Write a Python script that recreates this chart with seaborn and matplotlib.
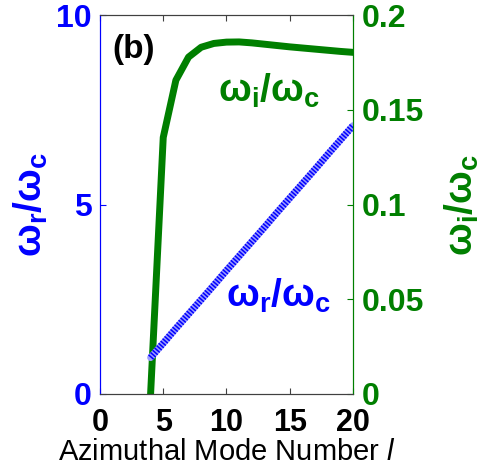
import matplotlib
matplotlib.use("Agg")
import matplotlib.pyplot as plt
import seaborn as sns
import pandas as pd

# Azimuthal mode numbers and the normalised real / imaginary frequencies
mode_l = [4, 5, 6, 7, 8, 9, 10, 11, 12, 13, 14, 15, 16, 17, 18, 19, 20]
omega_r = [0.96, 1.34, 1.73, 2.11, 2.49, 2.87, 3.26, 3.64, 4.02, 4.40,
           4.79, 5.17, 5.55, 5.93, 6.32, 6.70, 7.08]
omega_i = [0.0, 0.1354, 0.1656, 0.1778, 0.1830, 0.1850, 0.1857, 0.1858,
           0.1853, 0.1846, 0.1839, 0.1832, 0.1826, 0.1820, 0.1814, 0.1808, 0.1803]

x_ticks = [0, 5, 10, 15, 20]
left_ticks = [0, 5, 10]
right_ticks = [0, 0.05, 0.1, 0.15, 0.2]
right_labels = ["0", "0.05", "0.1", "0.15", "0.2"]

BLUE = "#0000ff"
GREEN = "#007f00"

sns.set_style("white")
plt.rcParams["font.family"] = ["Liberation Sans", "DejaVu Sans"]
plt.rcParams["mathtext.fontset"] = "custom"
plt.rcParams["mathtext.rm"] = "Liberation Sans"
plt.rcParams["mathtext.it"] = "Liberation Sans:italic"
plt.rcParams["mathtext.bf"] = "Liberation Sans:bold"

df = pd.DataFrame({"l": mode_l, "wr": omega_r, "wi": omega_i})

fig = plt.figure(figsize=(4.84, 4.65), dpi=100)
ax = fig.add_axes([0.2066, 0.1527, 0.5227, 0.8150])
ax2 = ax.twinx()

# real part: striped thick blue line
sns.lineplot(data=df, x="l", y="wr", ax=ax, color="#9a9aff", linewidth=5, legend=False)
sns.lineplot(data=df, x="l", y="wr", ax=ax, color=BLUE, linewidth=5,
             linestyle=(0, (0.22, 0.22)), legend=False)
# growth rate: solid green line
sns.lineplot(data=df, x="l", y="wi", ax=ax2, color=GREEN, linewidth=5, legend=False)

ax.set_xlim(0, 20)
ax.set_ylim(0, 10)
ax2.set_ylim(0, 0.2)

ax.set_xticks(x_ticks)
ax.set_xticklabels([str(t) for t in x_ticks], fontsize=22, fontweight="bold")
ax.set_yticks(left_ticks)
ax.set_yticklabels([str(t) for t in left_ticks], fontsize=23, fontweight="bold", color=BLUE)
ax2.set_yticks(right_ticks)
ax2.set_yticklabels(right_labels, fontsize=23, fontweight="bold", color=GREEN)

ax.tick_params(axis="x", direction="in", length=4, width=0.8, top=True, bottom=True,
               pad=10, colors="#404040", labelcolor="black")
ax.tick_params(axis="y", direction="in", length=4, width=0.8, colors=BLUE, pad=6)
ax2.tick_params(axis="y", direction="in", length=4, width=0.8, colors=GREEN, pad=6)
ax2.tick_params(axis="x", top=False)

for a in (ax, ax2):
    a.spines["top"].set_color("#404040")
    a.spines["bottom"].set_color("#404040")
    a.spines["left"].set_color(BLUE)
    a.spines["right"].set_color(GREEN)
    for s in a.spines.values():
        s.set_linewidth(0.8)

ax.set_xlabel(r"Azimuthal Mode Number $\mathit{l}$", fontsize=21, labelpad=0,
              color="black")
ax.set_ylabel(r"$\mathbf{\omega_r/\omega_c}$", fontsize=28, color=BLUE, labelpad=4)
ax2.set_ylabel(r"$\mathbf{\omega_i/\omega_c}$", fontsize=28, color=GREEN, labelpad=14)

ax.text(0.95, 9.1, "(b)", fontsize=24, fontweight="bold", color="black", va="center")
ax.text(9.3, 8.0, r"$\mathbf{\omega_i/\omega_c}$", fontsize=28, color=GREEN, va="center")
ax.text(10.0, 2.6, r"$\mathbf{\omega_r/\omega_c}$", fontsize=28, color=BLUE, va="center")

ax.set_zorder(ax2.get_zorder() + 1)
ax.patch.set_visible(False)

fig.savefig("out.png", dpi=100)
